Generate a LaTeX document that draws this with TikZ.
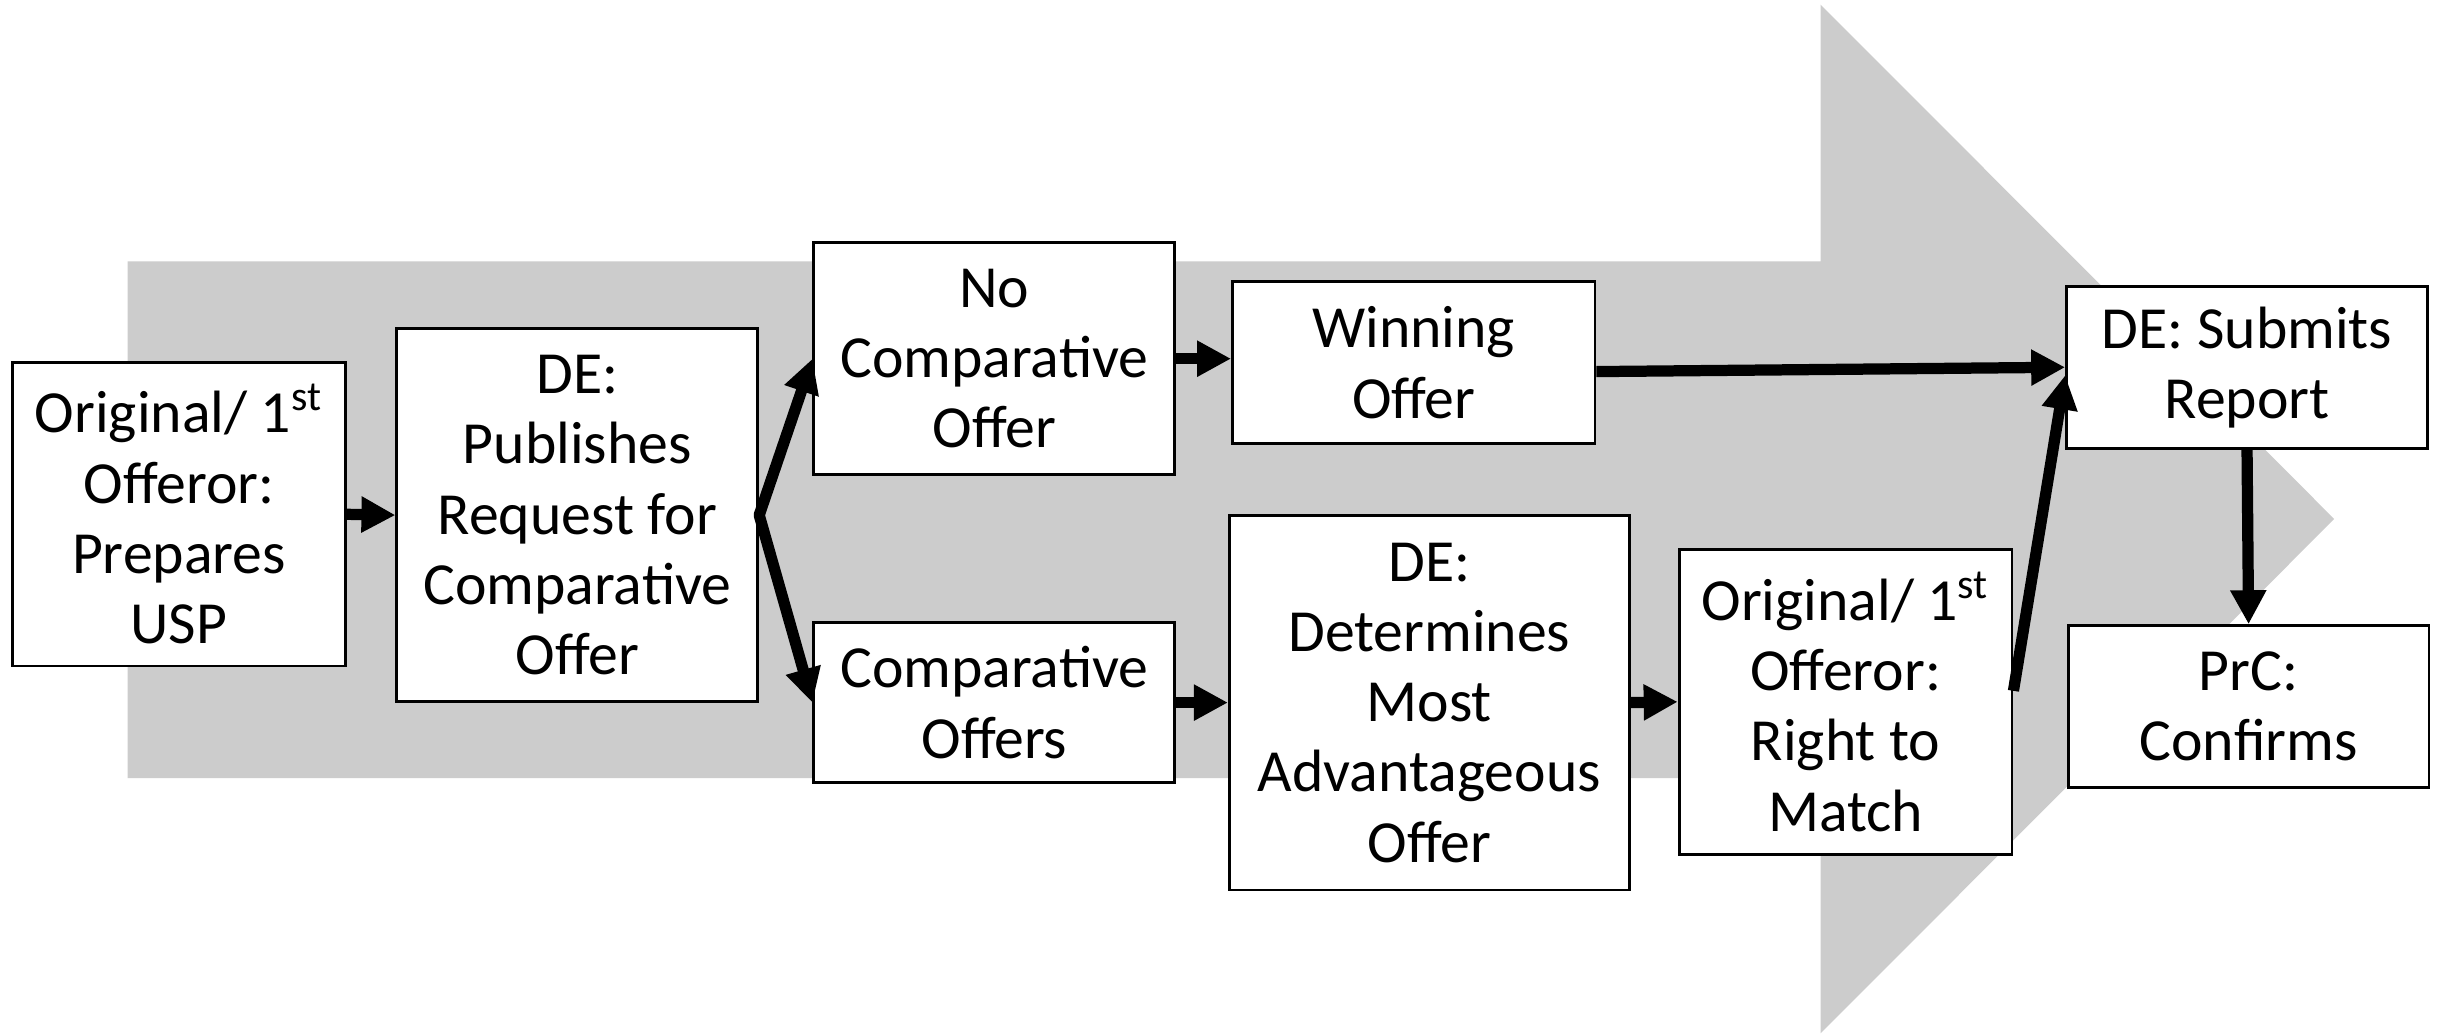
\documentclass[tikz,border=0pt]{standalone}
\usepackage{fontspec}
\setmainfont{Carlito}
\usetikzlibrary{arrows.meta}
\definecolor{bandgray}{RGB}{204,204,204}
\begin{document}
\begin{tikzpicture}[x=0.015561cm,y=-0.015561cm,
  box/.style={draw=black, line width=0.8pt, fill=white, align=center, inner sep=0pt,
              font=\fontsize{17}{20}\selectfont},
  flow/.style={-{Triangle[length=0.34cm,width=0.34cm]}, line width=3.2pt}]
\fill[white] (0,0) rectangle (1568,664);
\useasboundingbox (0,0) rectangle (1568,664);
% big background arrow
\fill[bandgray] (82,168) -- (1170,168) -- (1170,3) -- (1500,333.5) -- (1170,664)
  -- (1170,500) -- (82,500) -- cycle;
% boxes
\node[box, minimum width=3.33cm, minimum height=3.034cm] (usp) at (115,330.5)
  {Original/ 1\textsuperscript{st}\\Offeror:\\Prepares\\USP};
\node[box, minimum width=3.61cm, minimum height=3.735cm] (pub) at (371,331)
  {DE:\\Publishes\\Request for\\Comparative\\Offer};
\node[box, minimum width=3.61cm, minimum height=2.319cm] (nocomp) at (639,230.5)
  {No\\Comparative\\Offer};
\node[box, minimum width=3.61cm, minimum height=1.603cm] (comp) at (639,451.5)
  {Comparative\\Offers};
\node[box, minimum width=3.626cm, minimum height=1.618cm] (win) at (908.5,233)
  {Winning\\Offer};
\node[box, minimum width=4.0cm, minimum height=3.75cm] (det) at (918.5,451.5)
  {DE:\\Determines\\Most\\Advantageous\\Offer};
\node[box, minimum width=3.33cm, minimum height=3.05cm] (match) at (1186,451)
  {Original/ 1\textsuperscript{st}\\Offeror:\\Right to\\Match};
\node[box, minimum width=3.61cm, minimum height=1.618cm] (report) at (1444,236)
  {DE: Submits\\Report};
\node[box, minimum width=3.61cm, minimum height=1.618cm] (confirm) at (1445,454)
  {PrC:\\Confirms};
% connectors
\draw[flow] (usp.east) -- (pub.west);
\draw[flow, line cap=round] (pub.east) -- (nocomp.west);
\draw[flow, line cap=round] (pub.east) -- (comp.west);
\draw[flow] (nocomp.east) -- (nocomp.east -| win.west);
\draw[flow] (comp.east) -- (det.west);
\draw[flow] (det.east) -- (match.west);
\draw[flow] ([yshift=-0.09cm]win.east) -- (report.west);
\draw[flow] ([yshift=0.11cm]match.east) -- ([yshift=-0.08cm]report.west);
\draw[flow] (report.south) -- (confirm.north);
\end{tikzpicture}
\end{document}
